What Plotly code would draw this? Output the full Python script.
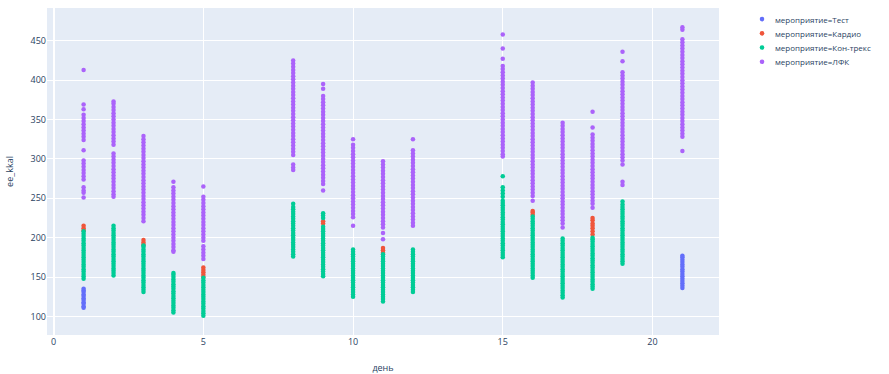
import plotly.graph_objects as go

# Energy expenditure (kcal) per session, grouped by activity and day
test_days = [1, 21]
test_kcal = [
    [111, 113, 116, 118, 121, 123, 126, 128, 131, 133, 135],
    [136, 139, 142, 145, 148, 151, 154, 157, 160, 163, 166, 169, 172, 175, 177],
]

cardio_days = [1, 3, 5, 9, 11, 16, 18]
cardio_kcal = [
    [209, 212, 215],
    [191, 194, 197],
    [150, 153, 156, 159, 162],
    [218, 221],
    [181, 184, 187],
    [229, 232, 234],
    [204, 208, 212, 215, 218, 222, 225],
]

contrex_days = [1, 2, 3, 4, 5, 8, 9, 10, 11, 12, 15, 16, 17, 18, 19]
contrex_kcal = [
    [148, 151, 154, 157, 160, 163, 166, 169, 172, 175, 178, 181, 184, 187, 190, 193, 196, 199, 202, 205, 208],
    [152, 155, 158, 161, 164, 167, 170, 173, 176, 179, 182, 185, 188, 191, 194, 197, 200, 203, 206, 209, 212, 215],
    [131, 134, 137, 140, 143, 146, 149, 152, 155, 158, 161, 164, 167, 170, 173, 176, 179, 182, 185, 188, 190],
    [105, 108, 111, 114, 117, 120, 123, 126, 129, 132, 135, 138, 141, 144, 147, 150, 153, 155],
    [101, 104, 107, 110, 113, 116, 119, 122, 125, 128, 131, 134, 137, 140, 143, 146, 149],
    [176, 179, 182, 185, 188, 191, 194, 197, 200, 203, 206, 209, 212, 215, 218, 221, 224, 227, 230, 233, 236, 239, 243],
    [151, 154, 157, 160, 163, 166, 169, 172, 175, 178, 181, 184, 187, 190, 193, 196, 199, 202, 205, 208, 211, 214, 225, 228, 231],
    [125, 128, 131, 134, 137, 140, 143, 146, 149, 152, 155, 158, 161, 164, 167, 170, 173, 176, 179, 182, 185],
    [119, 122, 125, 128, 131, 134, 137, 140, 143, 146, 149, 152, 155, 158, 161, 164, 167, 170, 173, 176, 179],
    [131, 134, 137, 140, 143, 146, 149, 152, 155, 158, 161, 164, 167, 170, 173, 176, 179, 182, 185],
    [175, 178, 181, 184, 187, 190, 193, 196, 199, 202, 205, 208, 211, 214, 217, 220, 223, 226, 229, 232, 235, 238, 241, 244, 247, 252, 256, 260, 264, 278],
    [149, 152, 155, 158, 161, 164, 167, 170, 173, 176, 179, 182, 185, 188, 191, 194, 197, 200, 203, 206, 209, 212, 215, 218, 221, 224, 227],
    [124, 127, 130, 133, 136, 139, 142, 145, 148, 151, 154, 157, 160, 163, 166, 169, 172, 175, 178, 181, 184, 187, 190, 193, 196, 199],
    [135, 138, 141, 144, 147, 150, 153, 156, 159, 162, 165, 168, 171, 174, 177, 180, 183, 186, 189, 192, 195, 198, 200],
    [167, 170, 173, 176, 179, 182, 185, 188, 191, 194, 197, 200, 203, 206, 209, 212, 215, 218, 221, 224, 227, 230, 233, 236, 239, 242, 246],
]

lfk_days = [1, 2, 3, 4, 5, 8, 9, 10, 11, 12, 15, 16, 17, 18, 19, 21]
lfk_kcal = [
    [413, 369, 363, 356, 352, 348, 344, 340, 336, 332, 328, 324, 311, 298, 294, 290, 286, 282, 278, 274, 264, 260, 257, 251],
    [373, 370, 366, 362, 358, 354, 350, 346, 342, 338, 334, 330, 326, 322, 318, 307, 303, 299, 295, 291, 287, 283, 279, 275, 271, 267, 263, 259, 255, 252],
    [329, 325, 321, 317, 313, 309, 305, 301, 297, 293, 289, 285, 281, 277, 273, 269, 265, 261, 257, 253, 249, 245, 241, 237, 233, 229, 225, 221],
    [271, 264, 260, 256, 252, 248, 244, 240, 236, 232, 228, 224, 220, 216, 212, 208, 204, 200, 196, 192, 188, 184, 182],
    [265, 252, 248, 244, 240, 236, 232, 228, 224, 220, 216, 212, 208, 204, 200, 196, 189, 185, 181, 177, 173],
    [425, 421, 417, 413, 409, 405, 401, 397, 393, 389, 385, 381, 377, 373, 369, 365, 361, 357, 353, 349, 345, 341, 337, 333, 329, 325, 321, 317, 313, 309, 305, 293, 289, 286],
    [395, 389, 380, 376, 372, 368, 364, 360, 356, 352, 348, 344, 340, 336, 332, 328, 324, 320, 316, 312, 308, 304, 300, 296, 292, 288, 284, 280, 276, 272, 268, 260],
    [325, 318, 314, 310, 306, 302, 298, 294, 290, 286, 282, 278, 274, 270, 266, 262, 258, 254, 250, 246, 242, 238, 234, 230, 226, 215],
    [297, 293, 289, 285, 281, 277, 273, 269, 265, 261, 257, 253, 249, 245, 241, 237, 233, 229, 225, 221, 217, 213, 206, 198],
    [325, 311, 307, 303, 299, 295, 291, 287, 283, 279, 275, 271, 267, 263, 259, 255, 251, 247, 243, 239, 235, 231, 227, 223, 219, 215],
    [458, 440, 427, 418, 414, 410, 406, 402, 398, 394, 390, 386, 382, 378, 374, 370, 366, 362, 358, 354, 350, 346, 342, 338, 334, 330, 326, 322, 318, 314, 310, 306, 303],
    [397, 393, 389, 385, 381, 377, 373, 369, 365, 361, 357, 353, 349, 345, 341, 337, 333, 329, 325, 321, 317, 313, 309, 305, 301, 297, 293, 289, 285, 281, 277, 273, 269, 265, 261, 257, 253, 247],
    [346, 342, 338, 334, 330, 326, 322, 318, 314, 310, 306, 302, 298, 294, 290, 286, 282, 278, 274, 270, 266, 262, 258, 254, 250, 246, 242, 238, 234, 230, 226, 222, 218, 213],
    [360, 340, 331, 327, 323, 319, 315, 311, 307, 303, 299, 295, 291, 287, 283, 279, 275, 271, 267, 263, 259, 255, 251, 247, 243, 238],
    [436, 424, 410, 406, 402, 398, 394, 390, 386, 382, 378, 374, 370, 366, 362, 358, 354, 350, 346, 342, 338, 334, 330, 326, 322, 318, 314, 310, 306, 302, 298, 293, 271, 267],
    [467, 464, 452, 448, 444, 440, 436, 432, 428, 424, 420, 416, 412, 408, 404, 400, 396, 392, 388, 384, 380, 376, 372, 368, 364, 360, 356, 352, 348, 344, 340, 336, 332, 328, 310],
]

groups = [
    ("Тест", test_days, test_kcal, "#636efa"),
    ("Кардио", cardio_days, cardio_kcal, "#EF553B"),
    ("Кон-трекс", contrex_days, contrex_kcal, "#00cc96"),
    ("ЛФК", lfk_days, lfk_kcal, "#ab63fa"),
]

fig = go.Figure()
for name, days, kcal, color in groups:
    xs, ys = [], []
    for d, vals in zip(days, kcal):
        xs.extend([d] * len(vals))
        ys.extend(vals)
    fig.add_trace(go.Scatter(
        x=xs, y=ys, mode="markers",
        name=f"мероприятие={name}",
        marker=dict(color=color, size=4.5),
        showlegend=False,
    ))

# Compact legend: a dot and a label per activity, to the right of the plot
legend_x_dot = 1.064
legend_x_text = 1.081
legend_y_top = 0.966
legend_step = 0.0435
for i, (name, _, _, color) in enumerate(groups):
    y = legend_y_top - i * legend_step
    fig.add_shape(
        type="circle", xref="paper", yref="paper",
        xsizemode="pixel", ysizemode="pixel",
        xanchor=legend_x_dot, yanchor=y,
        x0=-2.3, x1=2.3, y0=-2.3, y1=2.3,
        fillcolor=color, line=dict(width=0),
    )
    fig.add_annotation(
        xref="paper", yref="paper", x=legend_x_text, y=y,
        xanchor="left", yanchor="middle", showarrow=False,
        text=f"мероприятие={name}", font=dict(size=8, color="#2a3f5f"),
    )

fig.update_layout(
    template="plotly",
    width=889, height=374,
    margin=dict(l=47, r=170, t=8, b=39),
    font=dict(family="Open Sans", size=9, color="#2a3f5f"),
    paper_bgcolor="white",
    showlegend=False,
    xaxis=dict(title=dict(text="день", font=dict(size=9), standoff=18),
               automargin=False),
    yaxis=dict(title=dict(text="ee_kkal", font=dict(size=9)), automargin=False),
)

fig.write_html("out.html")
